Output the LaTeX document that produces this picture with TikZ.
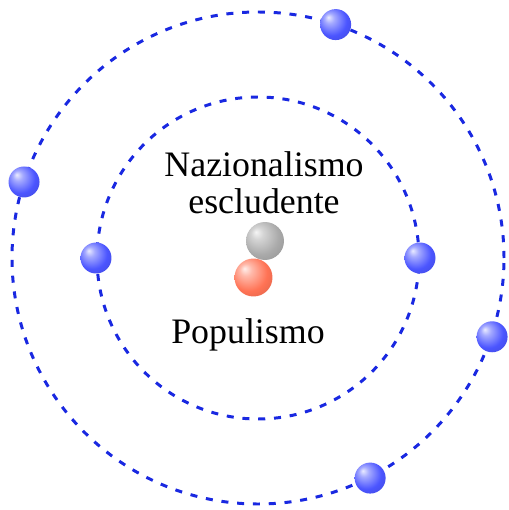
\documentclass[tikz,border=0pt]{standalone}
\usepackage{fontspec}
\setmainfont{Liberation Serif}
\usepackage{xcolor}
\usepackage{tikz}
\usetikzlibrary{positioning}
\definecolor{orbitblue}{RGB}{25,40,225}
\definecolor{elecblue}{RGB}{75,85,255}
\definecolor{nuclgray}{RGB}{170,170,170}
\definecolor{nuclred}{RGB}{255,115,85}
\colorlet{ballc}{elecblue}
\pgfdeclareradialshading[ballc]{softball}{\pgfpoint{-12bp}{12bp}}{%
  color(0bp)=(ballc!12!white); color(8bp)=(ballc!50!white);
  color(24bp)=(ballc); color(50bp)=(ballc!75!black)}

\begin{document}
\begin{tikzpicture}[x=0.02cm,y=0.02cm,
    orbit/.style={orbitblue,line width=1.7pt,dash pattern=on 4pt off 5pt},
    sball/.style={/utils/exec={\colorlet{ballc}{#1}},shading=softball},
    elec/.style={circle,sball=elecblue,minimum size=0.62cm,inner sep=0pt},
    nucl/.style={circle,minimum size=0.76cm,inner sep=0pt},
    lbl/.style={font=\fontsize{20.4}{21.2}\selectfont,align=center,inner sep=0pt}]
  \useasboundingbox (-258,-252) rectangle (250,258);
  % two orbits
  \draw[orbit] (0,0) circle[radius=161];
  \draw[orbit] (0,0) circle[radius=246];
  % nucleus
  \node[nucl,sball=nuclgray] (gray) at (7,17) {};
  \node[nucl,sball=nuclred] (red) at (-4.5,-19.5) {};
  % labels
  \node[lbl,anchor=base] (naz) at (6,44) {Nazionalismo\\escludente};
  \node[lbl,anchor=base] (pop) at (-10,-85) {Populismo};
  % inner electrons
  \node[elec] (i1) at (-162,0) {};
  \node[elec] (i2) at (162,0) {};
  % outer electrons
  \node[elec] (o1) at (71.6:246) {};
  \node[elec] (o2) at (162:246) {};
  \node[elec] (o3) at (-18.6:247) {};
  \node[elec] (o4) at (-63:247) {};
\end{tikzpicture}
\end{document}
